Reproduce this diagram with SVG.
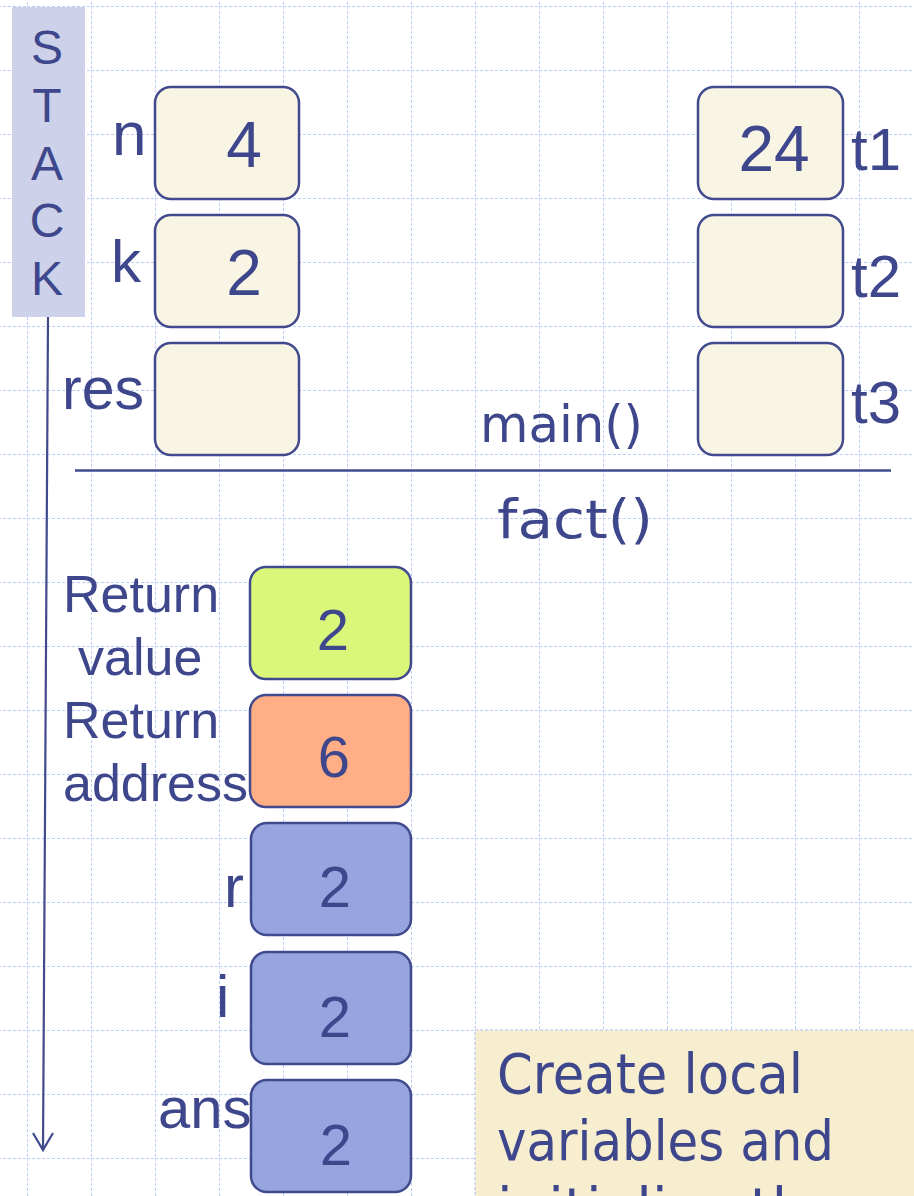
<svg xmlns="http://www.w3.org/2000/svg" width="914" height="1196" viewBox="0 0 914 1196">
<defs>
<pattern id="grid" patternUnits="userSpaceOnUse" x="27" y="6" width="64" height="64">
<line x1="0" y1="0" x2="64" y2="0" stroke="#bccdf7" stroke-width="2" stroke-dasharray="3 2"/>
<line x1="0" y1="0" x2="0" y2="64" stroke="#bccdf7" stroke-width="2" stroke-dasharray="3 2"/>
</pattern>
</defs>
<style>
.box{stroke:#414a8c;stroke-width:2.5}
.cream{fill:#f9f5e5}
.lab{font-family:"Liberation Sans",Arial,sans-serif;fill:#3f478c}
.big{font-size:60px}
.mid{font-size:52px}
.val{font-family:"Liberation Sans",Arial,sans-serif;fill:#3f478c;text-anchor:middle}
.comic{font-family:"DejaVu Sans",sans-serif;fill:#3f478c}
</style>
<rect width="914" height="1196" fill="#ffffff"/>
<rect width="914" height="1196" fill="url(#grid)"/>

<g id="stack">
<rect x="12" y="7" width="73" height="310" fill="#cdd1e9"/>
<g class="lab" font-size="48" text-anchor="middle">
<text x="47" y="64">S</text>
<text x="47" y="122">T</text>
<text x="47" y="180">A</text>
<text x="47" y="237">C</text>
<text x="47" y="295">K</text>
</g>
</g>

<g id="connectors" fill="none" stroke="#414a8c" stroke-width="2.2">
<line x1="48" y1="317" x2="43" y2="1150"/>
<polyline points="33,1133 43,1150 53,1133"/>
<line x1="75" y1="470.5" x2="891" y2="470.5" stroke-width="2.6"/>
</g>

<g id="n">
<rect class="box cream" x="155" y="87" width="144" height="112" rx="16"/>
<text class="lab" font-size="62" x="112" y="155">n</text>
<text class="val" font-size="64" x="244" y="167">4</text>
</g>
<g id="k">
<rect class="box cream" x="155" y="215" width="144" height="112" rx="16"/>
<text class="lab big" x="111" y="282">k</text>
<text class="val" font-size="64" x="244" y="295">2</text>
</g>
<g id="res">
<rect class="box cream" x="155" y="343" width="144" height="112" rx="16"/>
<text class="lab" font-size="59" x="62" y="409">res</text>
</g>

<g id="t1">
<rect class="box cream" x="698" y="87" width="145" height="112" rx="16"/>
<text class="val" font-size="64" x="774" y="171">24</text>
<text class="lab" font-size="60" x="851" y="170">t1</text>
</g>
<g id="t2">
<rect class="box cream" x="698" y="215" width="145" height="112" rx="16"/>
<text class="lab" font-size="60" x="851" y="297">t2</text>
</g>
<g id="t3">
<rect class="box cream" x="698" y="343" width="145" height="112" rx="16"/>
<text class="lab" font-size="60" x="851" y="423">t3</text>
</g>

<g id="frame-labels">
<text class="comic" font-size="52" x="480" y="442" textLength="163" lengthAdjust="spacingAndGlyphs">main()</text>
<text class="comic" font-size="54" x="497" y="538" textLength="156" lengthAdjust="spacingAndGlyphs">fact()</text>
</g>

<g id="return-value">
<rect class="box" fill="#dbf77a" x="250" y="567" width="161" height="112" rx="16"/>
<text class="lab mid" x="63" y="612">Return</text>
<text class="lab mid" x="78" y="675">value</text>
<text class="val" font-size="58" x="333" y="650">2</text>
</g>
<g id="return-address">
<rect class="box" fill="#ffae86" x="250" y="695" width="161" height="112" rx="16"/>
<text class="lab mid" x="63" y="738">Return</text>
<text class="lab mid" x="63" y="801">address</text>
<text class="val" font-size="58" x="334" y="777">6</text>
</g>
<g id="r">
<rect class="box" fill="#96a5e0" x="251" y="823" width="160" height="112" rx="16"/>
<text class="lab big" x="244" y="907" text-anchor="end">r</text>
<text class="val" font-size="58" x="335" y="907">2</text>
</g>
<g id="i">
<rect class="box" fill="#96a5e0" stroke-width="3.5" x="251" y="952" width="160" height="112" rx="16"/>
<text class="lab big" x="216" y="1017">i</text>
<text class="val" font-size="58" x="335" y="1037">2</text>
</g>
<g id="ans">
<rect class="box" fill="#96a5e0" stroke-width="3.5" x="251" y="1080" width="160" height="112" rx="16"/>
<text class="lab" font-size="58" x="158" y="1128">ans</text>
<text class="val" font-size="58" x="336" y="1165">2</text>
</g>

<g id="note">
<rect x="475" y="1030" width="460" height="200" fill="#f7eecf" stroke="#c5d3f5" stroke-width="1.5" stroke-dasharray="3 2"/>
<text class="comic" font-size="56" x="497" y="1093" textLength="306" lengthAdjust="spacingAndGlyphs">Create local</text>
<text class="comic" font-size="56" x="497" y="1160" textLength="337" lengthAdjust="spacingAndGlyphs">variables and</text>
<text class="comic" font-size="56" x="497" y="1227" textLength="400" lengthAdjust="spacingAndGlyphs">initialize them</text>
</g>
</svg>
